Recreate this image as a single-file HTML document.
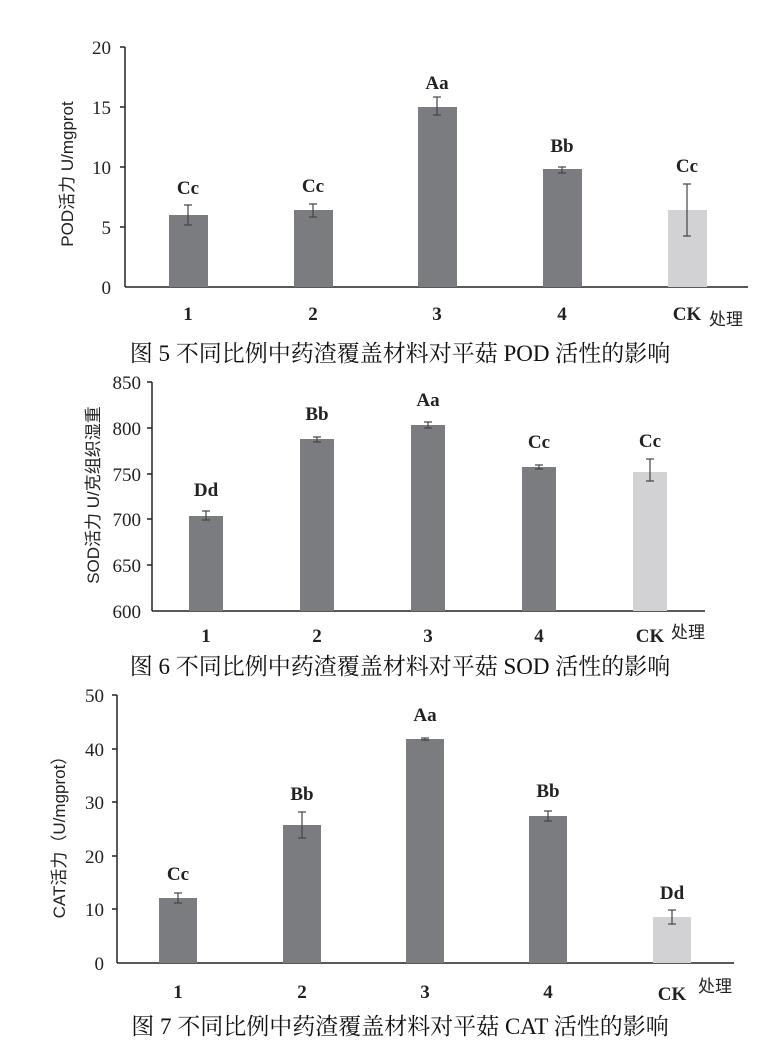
<!DOCTYPE html>
<html><head><meta charset="utf-8"><style>
html,body{margin:0;padding:0;background:#fff;}
svg{display:block;}
.lb{font-family:"Liberation Serif",serif;font-size:19px;fill:#222;font-weight:bold;}
.tk{font-family:"Liberation Serif",serif;font-size:19px;fill:#222;}
.yt{font-family:"Liberation Sans","Noto Sans CJK SC",sans-serif;font-size:17px;fill:#222;}
.cap{font-family:"Liberation Serif","Noto Serif CJK SC",serif;font-size:23px;fill:#111;}
</style></head><body>
<svg width="762" height="1042" viewBox="0 0 762 1042" xmlns="http://www.w3.org/2000/svg">
<g stroke="#222" stroke-width="1.5" fill="none">
<line x1="125" y1="47" x2="125" y2="287"/><line x1="125" y1="287" x2="748" y2="287"/>
<line x1="120" y1="47" x2="125" y2="47"/><line x1="120" y1="107" x2="125" y2="107"/><line x1="120" y1="167" x2="125" y2="167"/><line x1="120" y1="227" x2="125" y2="227"/>
<line x1="152" y1="382" x2="152" y2="611"/><line x1="152" y1="611" x2="705" y2="611"/>
<line x1="147" y1="382" x2="152" y2="382"/><line x1="147" y1="428" x2="152" y2="428"/><line x1="147" y1="474" x2="152" y2="474"/><line x1="147" y1="519" x2="152" y2="519"/><line x1="147" y1="565" x2="152" y2="565"/>
<line x1="117" y1="695" x2="117" y2="963"/><line x1="117" y1="963" x2="734" y2="963"/>
<line x1="112" y1="695" x2="117" y2="695"/><line x1="112" y1="749" x2="117" y2="749"/><line x1="112" y1="802" x2="117" y2="802"/><line x1="112" y1="856" x2="117" y2="856"/><line x1="112" y1="909" x2="117" y2="909"/>
</g>
<g fill="#7b7c80">
<rect x="169" y="215" width="39" height="72"/>
<rect x="294" y="210" width="39" height="77"/>
<rect x="418" y="107" width="39" height="180"/>
<rect x="543" y="169" width="39" height="118"/>
</g>
<rect x="668" y="210" width="39" height="77" fill="#d2d2d4"/>
<g stroke="#444" stroke-width="1.2">
<line x1="188" y1="205" x2="188" y2="225"/><line x1="184" y1="205" x2="192" y2="205"/><line x1="184" y1="225" x2="192" y2="225"/>
<line x1="313" y1="204" x2="313" y2="217"/><line x1="309" y1="204" x2="317" y2="204"/><line x1="309" y1="217" x2="317" y2="217"/>
<line x1="437" y1="97" x2="437" y2="115"/><line x1="433" y1="97" x2="441" y2="97"/><line x1="433" y1="115" x2="441" y2="115"/>
<line x1="562" y1="167" x2="562" y2="173"/><line x1="558" y1="167" x2="566" y2="167"/><line x1="558" y1="173" x2="566" y2="173"/>
<line x1="687" y1="184" x2="687" y2="236"/><line x1="683" y1="184" x2="691" y2="184"/><line x1="683" y1="236" x2="691" y2="236"/>
</g>
<g class="tk" text-anchor="end">
<text x="111" y="54">20</text><text x="111" y="114">15</text><text x="111" y="174">10</text><text x="111" y="234">5</text><text x="111" y="294">0</text>
</g>
<g class="lb" text-anchor="middle">
<text x="188" y="194">Cc</text><text x="313" y="192">Cc</text><text x="437" y="89">Aa</text><text x="562" y="152">Bb</text><text x="687" y="172">Cc</text>
<text x="188" y="320">1</text><text x="313" y="320">2</text><text x="437" y="320">3</text><text x="562" y="320">4</text><text x="687" y="320">CK</text>
</g>
<text x="709" y="325" class="yt" font-size="20">处理</text>
<text class="yt" transform="translate(73,174) rotate(-90)" text-anchor="middle">POD活力 U/mgprot</text>
<text x="400" y="361" class="cap" text-anchor="middle">图 5 不同比例中药渣覆盖材料对平菇 POD 活性的影响</text>

<g fill="#7b7c80">
<rect x="189" y="516" width="34" height="95"/>
<rect x="300" y="439" width="34" height="172"/>
<rect x="411" y="425" width="34" height="186"/>
<rect x="522" y="467" width="34" height="144"/>
</g>
<rect x="633" y="472" width="34" height="139" fill="#d2d2d4"/>
<g stroke="#444" stroke-width="1.2">
<line x1="206" y1="511" x2="206" y2="520"/><line x1="202" y1="511" x2="210" y2="511"/><line x1="202" y1="520" x2="210" y2="520"/>
<line x1="317" y1="437" x2="317" y2="442"/><line x1="313" y1="437" x2="321" y2="437"/><line x1="313" y1="442" x2="321" y2="442"/>
<line x1="428" y1="422" x2="428" y2="428"/><line x1="424" y1="422" x2="432" y2="422"/><line x1="424" y1="428" x2="432" y2="428"/>
<line x1="539" y1="465" x2="539" y2="469"/><line x1="535" y1="465" x2="543" y2="465"/><line x1="535" y1="469" x2="543" y2="469"/>
<line x1="650" y1="459" x2="650" y2="481"/><line x1="646" y1="459" x2="654" y2="459"/><line x1="646" y1="481" x2="654" y2="481"/>
</g>
<g class="tk" text-anchor="end">
<text x="141" y="389">850</text><text x="141" y="435">800</text><text x="141" y="481">750</text><text x="141" y="526">700</text><text x="141" y="572">650</text><text x="141" y="618">600</text>
</g>
<g class="lb" text-anchor="middle">
<text x="206" y="496">Dd</text><text x="317" y="420">Bb</text><text x="428" y="406">Aa</text><text x="539" y="448">Cc</text><text x="650" y="447">Cc</text>
<text x="206" y="642">1</text><text x="317" y="642">2</text><text x="428" y="642">3</text><text x="539" y="642">4</text><text x="650" y="642">CK</text>
</g>
<text x="671" y="638" class="yt" font-size="20">处理</text>
<text class="yt" transform="translate(99,495) rotate(-90)" text-anchor="middle" font-size="19">SOD活力  U/克组织湿重</text>
<text x="400" y="674" class="cap" text-anchor="middle">图 6 不同比例中药渣覆盖材料对平菇 SOD 活性的影响</text>

<g fill="#7b7c80">
<rect x="159" y="898" width="38" height="65"/>
<rect x="283" y="825" width="38" height="138"/>
<rect x="406" y="739" width="38" height="224"/>
<rect x="529" y="816" width="38" height="147"/>
</g>
<rect x="653" y="917" width="38" height="46" fill="#d2d2d4"/>
<g stroke="#444" stroke-width="1.2">
<line x1="178" y1="893" x2="178" y2="903"/><line x1="174" y1="893" x2="182" y2="893"/><line x1="174" y1="903" x2="182" y2="903"/>
<line x1="302" y1="812" x2="302" y2="838"/><line x1="298" y1="812" x2="306" y2="812"/><line x1="298" y1="838" x2="306" y2="838"/>
<line x1="425" y1="738" x2="425" y2="740"/><line x1="421" y1="738" x2="429" y2="738"/><line x1="421" y1="740" x2="429" y2="740"/>
<line x1="548" y1="811" x2="548" y2="821"/><line x1="544" y1="811" x2="552" y2="811"/><line x1="544" y1="821" x2="552" y2="821"/>
<line x1="672" y1="910" x2="672" y2="924"/><line x1="668" y1="910" x2="676" y2="910"/><line x1="668" y1="924" x2="676" y2="924"/>
</g>
<g class="tk" text-anchor="end">
<text x="104" y="702">50</text><text x="104" y="756">40</text><text x="104" y="809">30</text><text x="104" y="863">20</text><text x="104" y="916">10</text><text x="104" y="970">0</text>
</g>
<g class="lb" text-anchor="middle">
<text x="178" y="880">Cc</text><text x="302" y="800">Bb</text><text x="425" y="721">Aa</text><text x="548" y="797">Bb</text><text x="672" y="899">Dd</text>
<text x="178" y="998">1</text><text x="302" y="998">2</text><text x="425" y="998">3</text><text x="548" y="998">4</text><text x="672" y="1000">CK</text>
</g>
<text x="698" y="992" class="yt" font-size="20">处理</text>
<text class="yt" transform="translate(65,833) rotate(-90)" text-anchor="middle" font-size="18">CAT活力（U/mgprot）</text>
<text x="400" y="1034" class="cap" text-anchor="middle">图 7 不同比例中药渣覆盖材料对平菇 CAT 活性的影响</text>
</svg>
</body></html>
